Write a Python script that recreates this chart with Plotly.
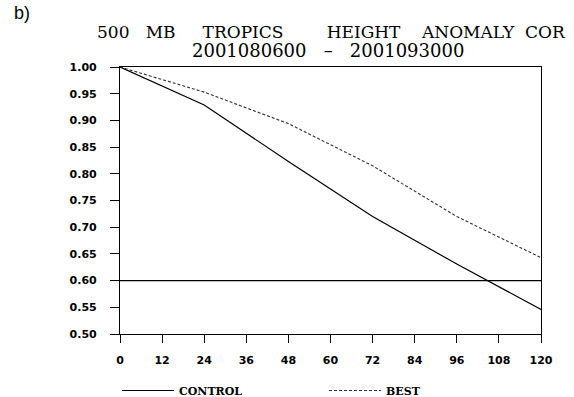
import plotly.graph_objects as go

hours = [0, 24, 48, 72, 96, 120]
control = [1.0, 0.929, 0.823, 0.720, 0.631, 0.546]
best = [1.0, 0.953, 0.894, 0.815, 0.720, 0.643]
threshold = 0.6
x_ticks = [0, 12, 24, 36, 48, 60, 72, 84, 96, 108, 120]
y_ticks = [0.50, 0.55, 0.60, 0.65, 0.70, 0.75, 0.80, 0.85, 0.90, 0.95, 1.00]

fig = go.Figure()
fig.add_trace(go.Scatter(x=hours, y=control, mode="lines", name="CONTROL",
                         line=dict(color="black", width=1.2)))
fig.add_trace(go.Scatter(x=hours, y=best, mode="lines", name="BEST",
                         line=dict(color="#333333", width=1.1, dash="3px,2px")))
fig.add_hline(y=threshold, line=dict(color="black", width=1.2))

tickfont = dict(family="DejaVu Sans", size=11, color="black", weight="bold")
fig.update_xaxes(range=[0, 120], tickvals=x_ticks, ticktext=[str(v) for v in x_ticks],
                 ticks="outside", ticklen=8, tickwidth=1.2, tickcolor="black",
                 showline=True, linecolor="black", linewidth=1.2, mirror=True,
                 showgrid=False, zeroline=False, tickfont=tickfont,
                 ticklabelstandoff=8, automargin=False)
fig.update_yaxes(range=[0.5, 1.0], tickvals=y_ticks, ticktext=[f"{v:.2f}" for v in y_ticks],
                 ticks="outside", ticklen=9, tickwidth=1.2, tickcolor="black",
                 showline=True, linecolor="black", linewidth=1.2, mirror=True,
                 showgrid=False, zeroline=False, tickfont=tickfont,
                 ticklabelstandoff=11, automargin=False)

W_PLOT = 421.0
H_PLOT = 267.0
fig.update_layout(
    width=574, height=397,
    margin=dict(l=120, r=33, t=67, b=63, autoexpand=False),
    paper_bgcolor="white", plot_bgcolor="white",
    showlegend=True,
    legend=dict(orientation="h", x=-3 / W_PLOT, xanchor="left", y=-42 / H_PLOT, yanchor="top",
                entrywidth=140, entrywidthmode="pixels", itemwidth=52,
                font=dict(family="DejaVu Serif", size=11, color="black", weight="bold"),
                bgcolor="rgba(0,0,0,0)"),
    annotations=[
        dict(text="b)", xref="paper", yref="paper", x=-108 / W_PLOT, y=1 + 54 / H_PLOT,
             xanchor="left", yanchor="middle",
             showarrow=False, font=dict(family="Liberation Sans", size=18, color="black")),
        dict(text="500   MB     TROPICS        HEIGHT    ANOMALY  COR", xref="paper", yref="paper",
             x=-25 / W_PLOT, y=1 + 35 / H_PLOT, xanchor="left", yanchor="middle",
             showarrow=False, font=dict(family="DejaVu Serif", size=17, color="black")),
        dict(text="2001080600   \u2013   2001093000", xref="paper", yref="paper",
             x=(328 - 120) / W_PLOT, y=1 + 17 / H_PLOT, xanchor="center", yanchor="middle",
             showarrow=False, font=dict(family="DejaVu Serif", size=18, color="black")),
    ],
)

fig.write_html("out.html", config={"displayModeBar": False},
               post_script="document.body.style.margin='0px';")
